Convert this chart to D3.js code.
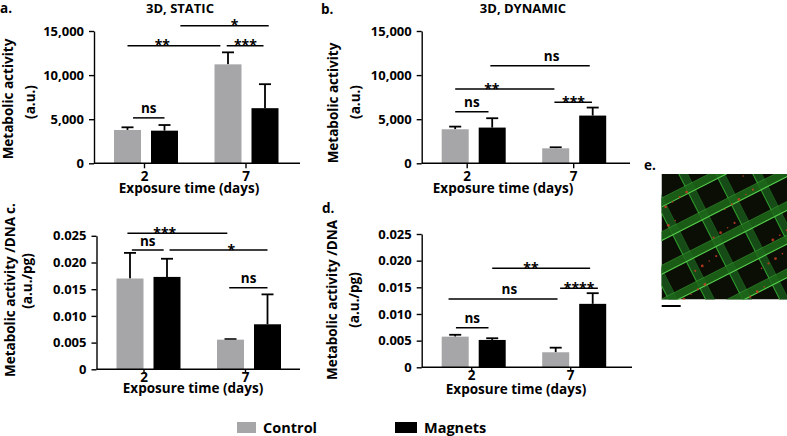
<!DOCTYPE html>
<html><head><meta charset="utf-8">
<script src="https://cdn.jsdelivr.net/npm/d3@7"></script>
<style>
body{margin:0;background:#fff}
svg text{font-family:"Open Sans",sans-serif;font-weight:700;fill:#000}
</style></head>
<body><svg id="chart" width="787" height="436"></svg>
<script>
// ---------- data ----------
const days = ["2", "7"];
const series = ["Control", "Magnets"];

// a. 3D, STATIC  (metabolic activity, a.u.)
const aControl = [3780, 11220];
const aControlErr = [300, 1360];
const aMagnets = [3700, 6250];
const aMagnetsErr = [640, 2720];
// b. 3D, DYNAMIC
const bControl = [3860, 1700];
const bControlErr = [300, 115];
const bMagnets = [4050, 5410];
const bMagnetsErr = [1060, 910];
// c. static, per DNA (a.u./pg)
const cControl = [0.0170, 0.00555];
const cControlErr = [0.0048, 0.0001];
const cMagnets = [0.0173, 0.00843];
const cMagnetsErr = [0.0034, 0.0056];
// d. dynamic, per DNA
const dControl = [0.00575, 0.00282];
const dControlErr = [0.00035, 0.00086];
const dMagnets = [0.00513, 0.0119];
const dMagnetsErr = [0.00032, 0.0020];

const activityTicks = [0, 5000, 10000, 15000];
const ratioTicks = [0, 0.005, 0.010, 0.015, 0.020, 0.025];

// significance brackets: [from bar slot, to bar slot, level (data units), label, label slot?]
// bar slots: 0 = Control@2, 1 = Magnets@2, 2 = Control@7, 3 = Magnets@7
const aSig = [[0.15, 1, 5150, "ns"], [0, 1.88, 13330, "**"], [1.98, 2.96, 13330, "***"], [1.25, 3.1, 15600, "*"]];
const bSig = [[0, 0.9, 5850, "ns"], [0, 1.98, 8420, "**"], [1.98, 2.98, 6920, "***"], [0.95, 2.92, 11070, "ns"]];
const cSig = [[-0.07, 1.95, 0.02547, "***"], [0.05, 0.91, 0.02234, "ns"], [1.04, 3.0, 0.02234, "*"], [1.98, 3.0, 0.01528, "ns"]];
const dSig = [[1.0, 2.93, 0.01857, "**", 1.61], [2.12, 3.14, 0.01482, "****"], [-0.18, 2.05, 0.01281, "ns", 1.27], [0.02, 0.9, 0.00743, "ns"]];

// ---------- styles / layout ----------
const colors = {Control: "#a6a6a9", Magnets: "#000000"};
const commaFmt = d3.format(",");
const ratioFmt = v => v === 0 ? "0" : d3.format(".3f")(v);

const panels = [
  {tag: "a.", control: aControl, controlErr: aControlErr, magnets: aMagnets, magnetsErr: aMagnetsErr, sig: aSig,
   ticks: activityTicks, max: 15000, fmt: commaFmt,
   left: 94, right: 300, top: 31, bottom: 163.3, tickOff: [-2, -1], xTickSize: 5, xTickPad: 3,
   title: "3D, STATIC", titleX: 180, titleY: 12.5, tagX: 0, tagY: 13, tagRot: false,
   ylab: ["Metabolic activity", "(a.u.)"], ylabX: [13, 35], ylabY: [99, 102], xlabX: 189, xlabY: 192.5},
  {tag: "b.", control: bControl, controlErr: bControlErr, magnets: bMagnets, magnetsErr: bMagnetsErr, sig: bSig,
   ticks: activityTicks, max: 15000, fmt: commaFmt,
   left: 421.7, right: 630, top: 31, bottom: 163.3, tickOff: [-7, -1], xTickSize: 5, xTickPad: 3,
   title: "3D, DYNAMIC", titleX: 523, titleY: 12.5, tagX: 321, tagY: 14, tagRot: false,
   ylab: ["Metabolic activity", "(a.u.)"], ylabX: [338, 360], ylabY: [103, 102], xlabX: 503, xlabY: 193},
  {tag: "c.", control: cControl, controlErr: cControlErr, magnets: cMagnets, magnetsErr: cMagnetsErr, sig: cSig,
   ticks: ratioTicks, max: 0.025, fmt: ratioFmt,
   left: 96.5, right: 300, top: 235.8, bottom: 369.3, tickOff: [-5, -4], xTickSize: 3, xTickPad: 0,
   title: null, tagX: 15, tagY: 214, tagRot: true,
   ylab: ["Metabolic activity /DNA", "(a.u./pg)"], ylabX: [15, 32], ylabY: [297, 281], xlabX: 193, xlabY: 392.5},
  {tag: "d.", control: dControl, controlErr: dControlErr, magnets: dMagnets, magnetsErr: dMagnetsErr, sig: dSig,
   ticks: ratioTicks, max: 0.025, fmt: ratioFmt,
   left: 421.7, right: 632, top: 234, bottom: 367.3, tickOff: [-2.5, -4], xTickSize: 3, xTickPad: 0,
   title: null, tagX: 322, tagY: 213, tagRot: false,
   ylab: ["Metabolic activity /DNA", "(a.u./pg)"], ylabX: [337, 359], ylabY: [300, 300], xlabX: 516, xlabY: 393.5}
];

const svg = d3.select("#chart");

function drawPanel(p) {
  const g = svg.append("g");
  const y = d3.scaleLinear().domain([0, p.max]).range([p.bottom, p.top]);
  const x0 = d3.scalePoint().domain(days).range([p.left + 52, p.left + 152.5]);
  const x1 = d3.scaleBand().domain(series).range([-32, 32]).paddingInner(10 / 37);
  const xt = d3.scalePoint().domain(days).range([p.left + 52 + p.tickOff[0], p.left + 152.5 + p.tickOff[1]]);

  const rows = [];
  days.forEach((d, i) => {
    rows.push({day: d, s: "Control", v: p.control[i], e: p.controlErr[i]});
    rows.push({day: d, s: "Magnets", v: p.magnets[i], e: p.magnetsErr[i]});
  });
  const cx = r => x0(r.day) + x1(r.s) + x1.bandwidth() / 2;

  // error bars
  g.selectAll("line.err").data(rows).join("line")
    .attr("x1", cx).attr("x2", cx)
    .attr("y1", r => y(r.v)).attr("y2", r => y(r.v + r.e))
    .attr("stroke", "#000").attr("stroke-width", 1.8);
  g.selectAll("line.cap").data(rows).join("line")
    .attr("x1", r => cx(r) - 6).attr("x2", r => cx(r) + 6)
    .attr("y1", r => y(r.v + r.e)).attr("y2", r => y(r.v + r.e))
    .attr("stroke", "#000").attr("stroke-width", 1.8);

  // bars
  g.selectAll("rect.bar").data(rows).join("rect")
    .attr("x", r => x0(r.day) + x1(r.s))
    .attr("width", x1.bandwidth())
    .attr("y", r => y(r.v))
    .attr("height", r => y(0) - y(r.v))
    .attr("fill", r => colors[r.s]);

  // y axis
  const ya = g.append("g").attr("transform", `translate(${p.left},0)`)
    .call(d3.axisLeft(y).tickValues(p.ticks).tickFormat(p.fmt).tickSize(5).tickPadding(5).tickSizeOuter(0));
  ya.select(".domain").attr("stroke-width", 1.4);
  ya.selectAll(".tick line").attr("stroke-width", 1.4);
  ya.selectAll("text").attr("font-size", 13).attr("font-family", null);

  // x axis
  g.append("line").attr("x1", p.left).attr("x2", p.right).attr("y1", p.bottom).attr("y2", p.bottom)
    .attr("stroke", "#000").attr("stroke-width", 1.4);
  const xa = g.append("g").attr("transform", `translate(0,${p.bottom})`)
    .call(d3.axisBottom(xt).tickSize(p.xTickSize).tickPadding(p.xTickPad).tickSizeOuter(0));
  xa.select(".domain").remove();
  xa.selectAll(".tick line").attr("stroke-width", 1.4);
  xa.selectAll("text").attr("font-size", 13.5).attr("font-family", null);

  // significance brackets
  const slot = d3.scaleLinear().domain([0, 1, 2, 3]).range(rows.map(cx));
  p.sig.forEach(s => {
    const ly = y(s[2]);
    g.append("line").attr("x1", slot(s[0])).attr("x2", slot(s[1])).attr("y1", ly).attr("y2", ly)
      .attr("stroke", "#000").attr("stroke-width", 1.5);
    const lx = slot(s[4] !== undefined ? s[4] : (s[0] + s[1]) / 2);
    const star = s[3].includes("*");
    g.append("text").attr("x", lx).attr("y", star ? ly + 4.5 : ly - 4.5)
      .attr("text-anchor", "middle").attr("font-size", star ? 14 : 13.5).text(s[3]);
  });

  // labels
  if (p.title) g.append("text").attr("x", p.titleX).attr("y", p.titleY).attr("text-anchor", "middle")
    .attr("font-size", 13).text(p.title);
  if (p.tagRot) {
    g.append("text").attr("transform", `translate(${p.tagX},${p.tagY}) rotate(-90)`).attr("font-size", 13.5).text(p.tag);
  } else {
    g.append("text").attr("x", p.tagX).attr("y", p.tagY).attr("font-size", 13.5).text(p.tag);
  }
  p.ylab.forEach((t, i) => {
    g.append("text").attr("transform", `translate(${p.ylabX[i]},${p.ylabY[i]}) rotate(-90)`)
      .attr("text-anchor", "middle").attr("font-size", 13.5).text(t);
  });
  g.append("text").attr("x", p.xlabX).attr("y", p.xlabY).attr("text-anchor", "middle")
    .attr("font-size", 13.5).text("Exposure time (days)");
}
panels.forEach(drawPanel);

// ---------- legend ----------
const legendItems = [{s: "Control", x: 237, w: 19}, {s: "Magnets", x: 395, w: 22}];
const lg = svg.append("g");
legendItems.forEach(it => {
  lg.append("rect").attr("x", it.x).attr("y", 422).attr("width", it.w).attr("height", 11).attr("fill", colors[it.s]);
  lg.append("text").attr("x", it.x + it.w + 7).attr("y", 433).attr("font-size", 14.5).text(it.s);
});

// ---------- e. micrograph (decorative) ----------
const img = {x: 661.5, y: 174, w: 125.5, h: 125.5};
svg.append("text").attr("x", 644).attr("y", 170).attr("font-size", 13.5).text("e.");
svg.append("defs").append("clipPath").attr("id", "imgclip")
  .append("rect").attr("x", img.x).attr("y", img.y).attr("width", img.w).attr("height", img.h);
const ig = svg.append("g").attr("clip-path", "url(#imgclip)");
ig.append("rect").attr("x", img.x).attr("y", img.y).attr("width", img.w).attr("height", img.h).attr("fill", "#0b0f04");
const icx = img.x + img.w / 2, icy = img.y + img.h / 2;
function strips(angle, pitch, width, fill, edge, offset, op) {
  const sg = ig.append("g").attr("transform", `translate(${icx},${icy}) rotate(${angle})`);
  d3.range(-7, 8).forEach(k => {
    const yy = k * pitch + offset;
    sg.append("rect").attr("x", -130).attr("width", 260).attr("y", yy).attr("height", width)
      .attr("fill", fill).attr("opacity", op);
    sg.append("line").attr("x1", -130).attr("x2", 130).attr("y1", yy + width).attr("y2", yy + width)
      .attr("stroke", edge).attr("stroke-width", 1.1);
    sg.append("line").attr("x1", -130).attr("x2", 130).attr("y1", yy).attr("y2", yy)
      .attr("stroke", edge).attr("stroke-width", 0.6).attr("opacity", 0.5);
  });
}
strips(63, 33, 8, "#17521a", "#2f9a2c", 4, 0.9);
strips(-27, 30, 8, "#1e6a1b", "#58d04e", -3, 0.85);
d3.range(34).forEach(i => {
  const fx = (i * 0.618034 + 0.11) % 1, fy = (i * 0.7548777 + 0.37) % 1;
  ig.append("circle").attr("cx", img.x + fx * img.w).attr("cy", img.y + fy * img.h)
    .attr("r", 0.8 + (i % 3) * 0.3).attr("fill", "#c83c24").attr("opacity", 0.85);
});
svg.append("line").attr("x1", 661.7).attr("x2", 680.7).attr("y1", 306).attr("y2", 306)
  .attr("stroke", "#000").attr("stroke-width", 2);
</script>
</body></html>
